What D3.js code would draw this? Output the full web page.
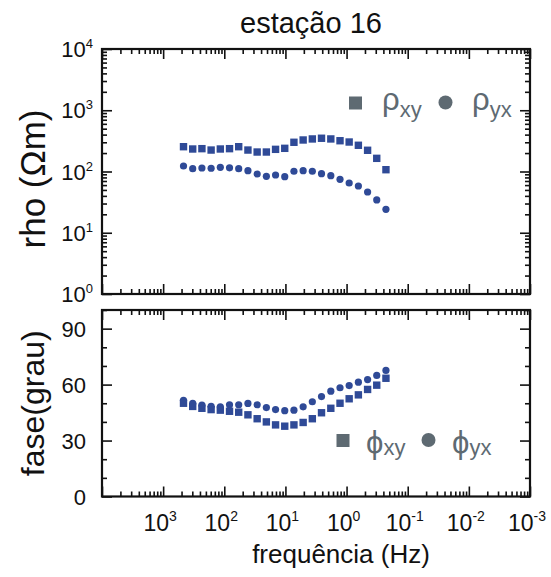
<!DOCTYPE html>
<html>
<head>
<meta charset="utf-8">
<script src="https://cdn.jsdelivr.net/npm/d3@7"></script>
<style>
  html, body { margin: 0; padding: 0; background: #ffffff; }
  svg { display: block; font-family: "Liberation Sans", Arial, sans-serif; }
</style>
</head>
<body>
<svg id="chart" width="551" height="577"></svg>
<script>
// ---------- data ----------
const freqs = [464.5, 328.4, 232.2, 164.2, 116.1, 82.1, 58.1, 41.05, 29.0, 20.5, 14.5, 10.26,
               7.26, 5.13, 3.63, 2.57, 1.81, 1.28, 0.907, 0.641, 0.453, 0.321, 0.227];
const rhoXY = [254, 233, 236, 224, 233, 236, 254, 224, 208, 208, 230, 239,
               300, 327, 340, 349, 340, 318, 303, 268, 222, 164, 107];
const rhoYX = [123, 111, 114, 113, 117, 115, 111, 103, 91, 83.5, 87.7, 82.3,
               101, 103, 101, 92, 85.4, 74.6, 64.9, 58, 46.3, 34.3, 24.1];
const phiXY = [50.0, 48.3, 47.3, 46.6, 46.3, 45.7, 45.2, 43.8, 41.7, 40.0, 38.4, 37.7,
               38.4, 39.7, 41.7, 44.9, 47.3, 50.0, 52.4, 54.5, 57.4, 59.7, 63.4];
const phiYX = [51.6, 49.9, 49.0, 48.4, 48.1, 49.2, 49.2, 49.9, 49.2, 47.7, 46.6, 46.0,
               46.3, 48.1, 50.8, 53.6, 56.5, 58.3, 59.5, 61.3, 62.7, 64.9, 67.6];
const xExponents = [3, 2, 1, 0, -1, -2, -3];
const rhoExponents = [0, 1, 2, 3, 4];
const phaseTicks = [0, 30, 60, 90];
const phaseMinor = [10, 20, 40, 50, 70, 80, 100];
const minorMult = [2, 3, 4, 5, 6, 7, 8, 9];

const markColor = "#2f4a97";
const legendColor = "#5e6a72";

const svg = d3.select("#chart");

// ---------- scales ----------
const L = 102, R = 530;
const x = d3.scaleLog().domain([1e4, 1e-3]).range([L, R]);
const topT = 49, topB = 294;
const yTop = d3.scaleLog().domain([1, 1e4]).range([topB, topT]);
const botT = 310, botB = 496.5;
const yBot = d3.scaleLinear().domain([0, 100]).range([botB, botT]);

// tick value sets
const xMajor = d3.range(4, -4, -1).map(d => Math.pow(10, d));
const xMinor = [];
for (let d = 4; d >= -2; d--) minorMult.forEach(k => xMinor.push(Math.pow(10, d) / k));
const yTopMajor = rhoExponents.map(e => Math.pow(10, e));
const yTopMinor = [];
for (let d = 0; d <= 3; d++) minorMult.forEach(k => yTopMinor.push(k * Math.pow(10, d)));

function drawTicks(g, axisFn, scale, values, size) {
  g.call(axisFn(scale).tickValues(values).tickSize(size).tickSizeOuter(0).tickFormat(""))
   .call(s => s.select(".domain").remove())
   .call(s => s.selectAll(".tick line").attr("stroke", "#111").attr("stroke-width", 1.6));
}

function panelTicks(yScale, yMajor, yMinor, yT, yB, ymaj, ymin) {
  drawTicks(svg.append("g").attr("transform", `translate(0,${yB})`), d3.axisBottom, x, xMajor, -10);
  drawTicks(svg.append("g").attr("transform", `translate(0,${yB})`), d3.axisBottom, x, xMinor, -5);
  drawTicks(svg.append("g").attr("transform", `translate(0,${yT})`), d3.axisTop, x, xMajor, -10);
  drawTicks(svg.append("g").attr("transform", `translate(0,${yT})`), d3.axisTop, x, xMinor, -5);
  drawTicks(svg.append("g").attr("transform", `translate(${L},0)`), d3.axisLeft, yScale, yMajor, -ymaj);
  drawTicks(svg.append("g").attr("transform", `translate(${L},0)`), d3.axisLeft, yScale, yMinor, -ymin);
  drawTicks(svg.append("g").attr("transform", `translate(${R},0)`), d3.axisRight, yScale, yMajor, -ymaj);
  drawTicks(svg.append("g").attr("transform", `translate(${R},0)`), d3.axisRight, yScale, yMinor, -ymin);
  svg.append("rect").attr("x", L).attr("y", yT).attr("width", R - L).attr("height", yB - yT)
    .attr("fill", "none").attr("stroke", "#111").attr("stroke-width", 2.2);
}

panelTicks(yTop, yTopMajor, yTopMinor, topT, topB, 10, 5);
panelTicks(yBot, phaseTicks, phaseMinor, botT, botB, 10, 5);

// ---------- data marks ----------
const sq = 7.4, cr = 3.6;
const gTop = svg.append("g");
gTop.selectAll("rect.sxy").data(freqs).join("rect").attr("class", "sxy")
  .attr("x", f => x(f) - sq / 2).attr("y", (f, i) => yTop(rhoXY[i]) - sq / 2)
  .attr("width", sq).attr("height", sq).attr("fill", markColor);
gTop.selectAll("circle.cyx").data(freqs).join("circle").attr("class", "cyx")
  .attr("cx", f => x(f)).attr("cy", (f, i) => yTop(rhoYX[i])).attr("r", cr).attr("fill", markColor);

const gBot = svg.append("g");
gBot.selectAll("rect.sxy").data(freqs).join("rect").attr("class", "sxy")
  .attr("x", f => x(f) - sq / 2).attr("y", (f, i) => yBot(phiXY[i]) - sq / 2)
  .attr("width", sq).attr("height", sq).attr("fill", markColor);
gBot.selectAll("circle.cyx").data(freqs).join("circle").attr("class", "cyx")
  .attr("cx", f => x(f)).attr("cy", (f, i) => yBot(phiYX[i])).attr("r", cr).attr("fill", markColor);

// ---------- tick labels ----------
const tickFont = 23, supFont = 14;
xExponents.forEach(e => {
  const t = svg.append("text").attr("x", x(Math.pow(10, e)) - 3).attr("y", 531)
    .attr("text-anchor", "middle").attr("font-size", tickFont).attr("fill", "#111");
  t.append("tspan").text("10");
  t.append("tspan").attr("dy", -10).attr("font-size", supFont).text(String(e));
});
rhoExponents.forEach(e => {
  const t = svg.append("text").attr("x", 93).attr("y", yTop(Math.pow(10, e)) + 8)
    .attr("text-anchor", "end").attr("font-size", 22).attr("fill", "#111");
  t.append("tspan").text("10");
  t.append("tspan").attr("dy", -9).attr("font-size", 13).text(String(e));
});
phaseTicks.forEach(v => {
  svg.append("text").attr("x", 86).attr("y", yBot(v) + 8)
    .attr("text-anchor", "end").attr("font-size", 22).attr("fill", "#111").text(String(v));
});

// ---------- titles ----------
svg.append("text").attr("x", 311).attr("y", 33).attr("text-anchor", "middle")
  .attr("font-size", 29).attr("fill", "#111").text("estação 16");
svg.append("text").attr("x", 341).attr("y", 563).attr("text-anchor", "middle")
  .attr("font-size", 26).attr("fill", "#111").text("frequência (Hz)");
svg.append("text").attr("transform", `translate(45,179) rotate(-90)`)
  .attr("text-anchor", "middle").attr("font-size", 35).attr("fill", "#111").text("rho (Ωm)");
svg.append("text").attr("transform", `translate(44,${(botT + botB) / 2}) rotate(-90)`)
  .attr("text-anchor", "middle").attr("font-size", 32).attr("fill", "#111").text("fase(grau)");

// ---------- legends ----------
function legendEntry(shape, cx, cy, letter, sub, lx, ly, bigFont, subFont, subDy) {
  if (shape === "square") {
    svg.append("rect").attr("x", cx - 6.5).attr("y", cy - 6.5).attr("width", 13).attr("height", 13)
      .attr("fill", legendColor);
  } else {
    svg.append("circle").attr("cx", cx).attr("cy", cy).attr("r", 7).attr("fill", legendColor);
  }
  const t = svg.append("text").attr("x", lx).attr("y", ly).attr("fill", legendColor)
    .attr("font-size", bigFont);
  t.append("tspan").text(letter);
  t.append("tspan").attr("dy", subDy).attr("font-size", subFont).text(sub);
}
legendEntry("square", 355.5, 103, "ρ", "xy", 382, 110, 31, 22, 7);
legendEntry("circle", 445.5, 102.5, "ρ", "yx", 472, 110, 31, 22, 7);
legendEntry("square", 343, 440.5, "ϕ", "xy", 366, 453, 31, 22, 2);
legendEntry("circle", 428.5, 440, "ϕ", "yx", 452, 453, 31, 22, 2);
</script>
</body>
</html>
